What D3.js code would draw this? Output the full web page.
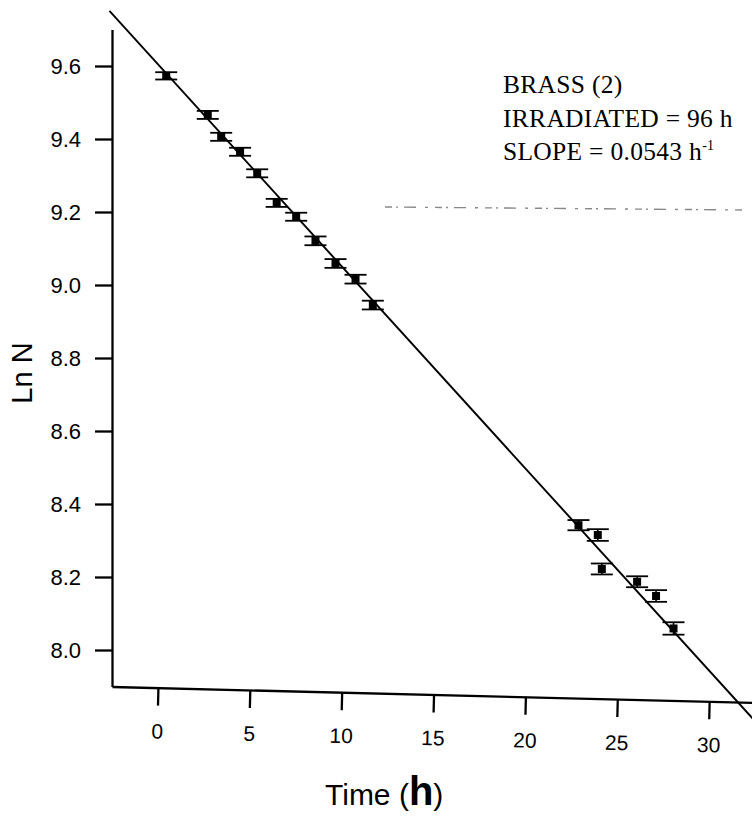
<!DOCTYPE html>
<html><head><meta charset="utf-8">
<script src="https://cdn.jsdelivr.net/npm/d3@7"></script>
<style>body{margin:0;background:#fff} svg{display:block}</style>
</head><body>
<svg id="chart" width="752" height="818"></svg>
<script>
// ---- data ----
const times  = [0.45, 2.71, 3.44, 4.47, 5.40, 6.46, 7.52, 8.57, 9.66, 10.75, 11.69, 22.88, 23.93, 24.15, 26.07, 27.10, 28.05];
const lnN    = [9.573, 9.466, 9.406, 9.365, 9.306, 9.225, 9.187, 9.121, 9.059, 9.016, 8.945, 8.342, 8.315, 8.222, 8.187, 8.148, 8.059];
const errors = [0.010, 0.011, 0.011, 0.011, 0.011, 0.011, 0.011, 0.012, 0.012, 0.012, 0.012, 0.014, 0.016, 0.015, 0.015, 0.016, 0.017];
const fitIntercept = 9.605;
const fitSlope = -0.0554;
const fitRange = [-2.64, 32.6];
const xMajorTicks = [0, 5, 10, 15, 20, 25, 30];
const xMinorTicks = [-2.5, 2.5, 7.5, 12.5, 17.5, 22.5, 27.5, 32.5];
const yMajorTicks = [8.0, 8.2, 8.4, 8.6, 8.8, 9.0, 9.2, 9.4, 9.6];
const yMinorTicks = [7.9, 8.1, 8.3, 8.5, 8.7, 8.9, 9.1, 9.3, 9.5, 9.7];
const annotationLines = ["BRASS (2)", "IRRADIATED = 96 h", "SLOPE = 0.0543 h"];
const annotationSup = "-1";
const xTitle = ["Time (", "h", ")"];
const yTitle = "Ln N";

// ---- layout ----
const svg = d3.select("#chart");
const x = d3.scaleLinear().domain([-2.5, 32.5]).range([112, 755.3]);
const y = d3.scaleLinear().domain([7.9, 9.7]).range([686.5, 29.5]);
const sans = "'Liberation Sans', Arial, sans-serif";
const serif = "'Liberation Serif', 'Times New Roman', serif";

// scan artifact (faint dashed streak)
svg.append("line")
  .attr("x1", 385).attr("y1", 207).attr("x2", 745).attr("y2", 210)
  .attr("stroke", "#888").attr("stroke-width", 1.4)
  .attr("stroke-dasharray", "7 4 2 6 12 9 3 7");

// y axis
const gy = svg.append("g").attr("transform", `translate(${x(-2.5)},0)`);
gy.call(d3.axisLeft(y).tickValues(yMinorTicks).tickSize(10).tickSizeOuter(0).tickFormat(""));
gy.call(d3.axisLeft(y).tickValues(yMajorTicks).tickSize(17).tickSizeOuter(0).tickPadding(14).tickFormat(d3.format(".1f")));
gy.selectAll("path,line").attr("stroke", "#000").attr("stroke-width", 2.3);
gy.selectAll("text").attr("font-family", sans).attr("font-size", 22).attr("fill", "#000");

// x axis (slightly tilted, as in the scan)
const gx = svg.append("g").attr("transform", `translate(0,${y(7.9)}) rotate(1.42,${x(-2.5)},0)`);
gx.call(d3.axisBottom(x).tickValues(xMinorTicks).tickSize(10).tickSizeOuter(0).tickFormat(""));
gx.call(d3.axisBottom(x).tickValues(xMajorTicks).tickSize(18).tickSizeOuter(0).tickPadding(18).tickFormat(d3.format("d")));
gx.selectAll("path,line").attr("stroke", "#000").attr("stroke-width", 2.3);
gx.selectAll("text").attr("font-family", sans).attr("font-size", 21).attr("fill", "#000");

// fit line
const line = d3.line().x(t => x(t)).y(t => y(fitIntercept + fitSlope * t));
svg.append("path").datum(fitRange).attr("d", line)
  .attr("fill", "none").attr("stroke", "#000").attr("stroke-width", 1.9);

// data points with error bars
const pts = times.map((t, i) => ({t, v: lnN[i], e: errors[i]}));
const g = svg.append("g").selectAll("g").data(pts).join("g");
g.append("line")
  .attr("x1", d => x(d.t)).attr("x2", d => x(d.t))
  .attr("y1", d => y(d.v - d.e)).attr("y2", d => y(d.v + d.e))
  .attr("stroke", "#000").attr("stroke-width", 1.6);
[-1, 1].forEach(s => {
  g.append("line")
    .attr("x1", d => x(d.t) - 11).attr("x2", d => x(d.t) + 11)
    .attr("y1", d => y(d.v + s * d.e)).attr("y2", d => y(d.v + s * d.e))
    .attr("stroke", "#000").attr("stroke-width", 1.8);
});
g.append("rect")
  .attr("x", d => x(d.t) - 4).attr("y", d => y(d.v) - 4)
  .attr("width", 8).attr("height", 8).attr("fill", "#000");

// annotation
const ann = svg.append("text").attr("font-family", serif).attr("font-size", 25.5)
  .attr("letter-spacing", 0.3).attr("fill", "#000");
annotationLines.forEach((s, i) => {
  ann.append("tspan").attr("x", 503).attr("y", 93 + i * 33.5).text(s);
});
ann.append("tspan").attr("font-size", 14).attr("dy", -10).text(annotationSup);

// axis titles
svg.append("text")
  .attr("transform", "translate(32,373) rotate(-90)")
  .attr("text-anchor", "middle")
  .attr("font-family", sans).attr("font-size", 29).attr("fill", "#000")
  .text(yTitle);

const xt = svg.append("text").attr("x", 325).attr("y", 805)
  .attr("font-family", sans).attr("font-size", 30).attr("fill", "#000");
xt.append("tspan").text(xTitle[0]);
xt.append("tspan").attr("font-weight", "bold").attr("font-size", 40).text(xTitle[1]);
xt.append("tspan").text(xTitle[2]);
</script>
</body></html>
